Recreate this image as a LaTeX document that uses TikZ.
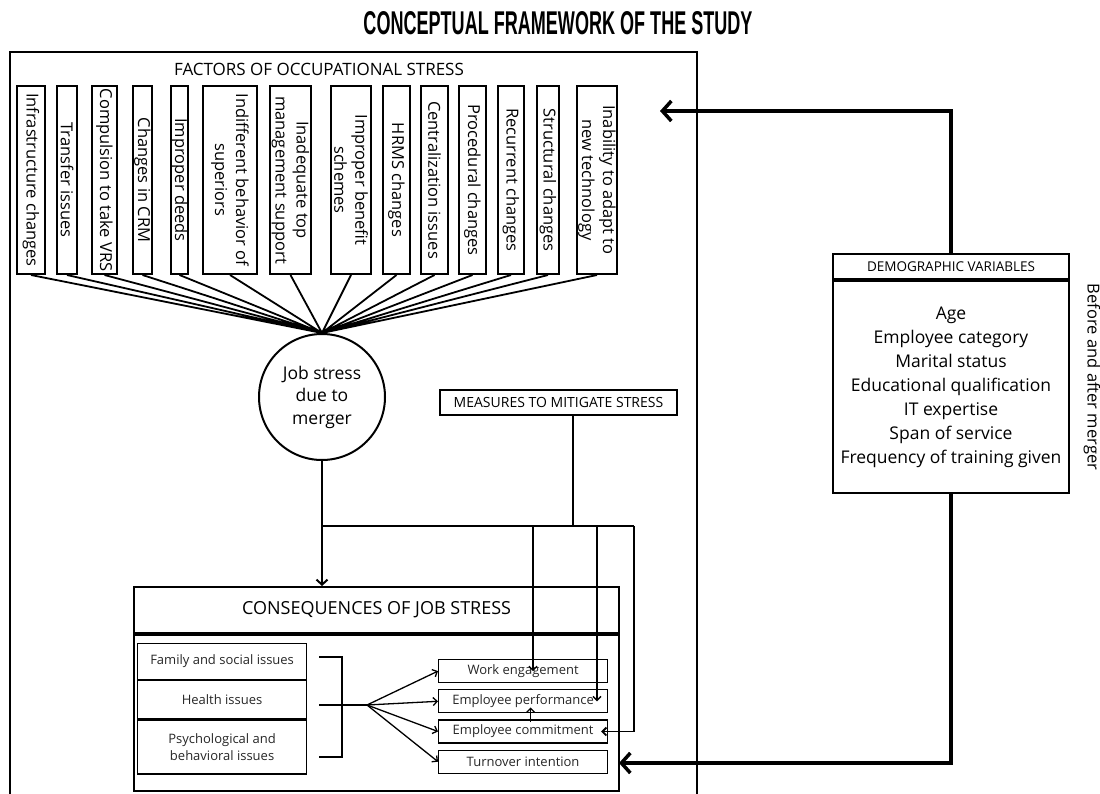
\documentclass[tikz,border=0pt]{standalone}
\usepackage{fontspec}
\usepackage{graphicx}
\setmainfont{Open Sans}
\newfontfamily\titlefont{Liberation Sans}
\usetikzlibrary{arrows.meta,positioning}

\begin{document}
\begin{tikzpicture}[
  x=1pt,y=-1pt,
  factor/.style={draw,line width=2pt,rotate=-90,minimum width=188pt,inner sep=0pt,
    align=center,font=\fontsize{16.5}{21}\selectfont},
  hdr/.style={font=\fontsize{17}{20}\selectfont},
  panel/.style={draw,line width=2.2pt,inner sep=0pt},
  itembox/.style={draw,line width=1.2pt,minimum width=169pt,inner sep=0pt,align=center,
    text=black!85,font=\fontsize{13}{16.5}\selectfont},
  spoke/.style={line width=1.8pt},
  link/.style={line width=1.5pt},
  arr/.style={-{Straight Barb[length=4pt,width=8pt]},line width=1.3pt},
  midarr/.style={-{Straight Barb[length=5pt,width=11pt]},line width=2pt},
  bigarr/.style={-{Straight Barb[length=9pt,width=20pt]},line width=3.5pt}
]
\useasboundingbox (0,0) rectangle (1100,794);
\node[font=\titlefont\bfseries] (title) at (558,23) {\resizebox{389pt}{23pt}{CONCEPTUAL FRAMEWORK OF THE STUDY}};

% outer frame of the study
\draw[line width=2pt] (10,794) -- (10,52) -- (697,52) -- (697,794);
\node[hdr] (facttitle) at (319,69) {FACTORS OF OCCUPATIONAL STRESS};

% factors
\node[factor,minimum height=28pt] (infra) at (31,180) {Infrastructure changes};
\node[factor,minimum height=20pt] (transfer) at (67,180) {Transfer issues};
\node[factor,minimum height=25pt] (vrs) at (104.5,180) {Compulsion to take VRS};
\node[factor,minimum height=19pt] (crm) at (142.5,180) {Changes in CRM};
\node[factor,minimum height=17pt] (deeds) at (179.5,180) {Improper deeds};
\node[factor,minimum height=54pt] (indiff) at (230,180) {Indifferent behavior of\\superiors};
\node[factor,minimum height=41pt] (topmgmt) at (290.5,180) {Inadequate top\\management support};
\node[factor,minimum height=40pt] (benefit) at (351,180) {Improper benefit\\schemes};
\node[factor,minimum height=27pt] (hrms) at (396.5,180) {HRMS changes};
\node[factor,minimum height=27pt] (central) at (434.5,180) {Centralization issues};
\node[factor,minimum height=27pt] (proced) at (472.5,180) {Procedural changes};
\node[factor,minimum height=26pt] (recur) at (511,180) {Recurrent changes};
\node[factor,minimum height=22pt] (struct) at (548,180) {Structural changes};
\node[factor,minimum height=40pt] (newtech) at (597,180) {Inability to adapt to\\new technology};

\node[circle,draw,line width=2pt,minimum size=126pt,inner sep=0pt,align=center,
  font=\fontsize{17.5}{22.5}\selectfont] (job) at (322,397) {Job stress\\due to\\merger};

\draw[spoke] (infra.east) -- (job.north) (transfer.east) -- (job.north)
  (vrs.east) -- (job.north) (crm.east) -- (job.north) (deeds.east) -- (job.north)
  (indiff.east) -- (job.north) (topmgmt.east) -- (job.north) (benefit.east) -- (job.north)
  (hrms.east) -- (job.north) (central.east) -- (job.north) (proced.east) -- (job.north)
  (recur.east) -- (job.north) (struct.east) -- (job.north) (newtech.east) -- (job.north);

\node[draw,line width=2pt,minimum width=237pt,minimum height=25pt,
  font=\fontsize{14}{16}\selectfont] (measures) at (558.5,402.5) {MEASURES TO MITIGATE STRESS};

% consequences
\node[panel,minimum width=485pt,minimum height=46pt,anchor=north west,
  font=\fontsize{18}{20}\selectfont] (chead) at (133,586) {CONSEQUENCES OF JOB STRESS};
\node[panel,minimum width=485pt,minimum height=156pt,below=0pt of chead] (cbody) {};

\node[itembox,minimum height=36pt,anchor=north west] (family) at (137,643) {Family and social issues};
\node[itembox,minimum height=38pt,below=0pt of family] (health) {Health issues};
\node[itembox,minimum height=54pt,below=0pt of health] (psych) {Psychological and\\behavioral issues};

\node[itembox,minimum height=23pt,anchor=north west] (engage) at (438,659) {Work engagement};
\node[itembox,minimum height=23pt,below=6pt of engage] (perform) {Employee performance};
\node[itembox,minimum height=23pt,below=6pt of perform] (commit) {Employee commitment};
\node[itembox,minimum height=23pt,below=6pt of commit] (turnover) {Turnover intention};

\draw[spoke] (319,657) -- (342,657) -- (342,757) -- (319,757);
\coordinate (brk) at (319,705);
\coordinate (fan) at (367,705);
\draw[spoke] (brk) -- (fan);
\draw[arr] (fan) -- (engage.west);
\draw[arr] (fan) -- (perform.west);
\draw[arr] (fan) -- (commit.west);
\draw[arr] (fan) -- (turnover.west);

% mitigation links
\coordinate (mj) at (573,526);
\coordinate (m1) at (533,526);
\coordinate (m2) at (597,526);
\coordinate (m3) at (634,526);
\draw[link] (measures.south -| mj) -- (mj);
\draw[line width=2pt] (job.south |- mj) -- (m3);
\draw[midarr] (job.south) -- (job.south |- chead.north);
\draw[arr] (m1) -- (m1 |- engage.center);
\draw[arr] (m2) -- (m2 |- perform.center);
\draw[arr,line width=1.8pt] (m3) |- ([xshift=-7pt]commit.east);
\draw[arr] ([xshift=7.5pt,yshift=-3pt]commit.north) -- ([xshift=7.5pt,yshift=6pt]perform.south);

% demographic variables
\node[draw,line width=2pt,minimum width=236pt,minimum height=25pt,anchor=north west,
  font=\fontsize{13.5}{16}\selectfont] (dhead) at (832,253) {DEMOGRAPHIC VARIABLES};
\node[draw,line width=2pt,minimum width=236pt,minimum height=212pt,below=0pt of dhead,
  align=center,font=\fontsize{17.5}{24}\selectfont] (dbody)
  {Age\\Employee category\\Marital status\\Educational qualification\\IT expertise\\Span of service\\Frequency of training given};
\node[rotate=-90,font=\fontsize{16.5}{20}\selectfont] (timing) at (1092,377) {Before and after merger};

\coordinate (tofac) at (660,111);
\coordinate (tocons) at (619,763);
\draw[bigarr] (dhead.north) |- (tofac);
\draw[bigarr] (dbody.south) |- (tocons);
\end{tikzpicture}
\end{document}
